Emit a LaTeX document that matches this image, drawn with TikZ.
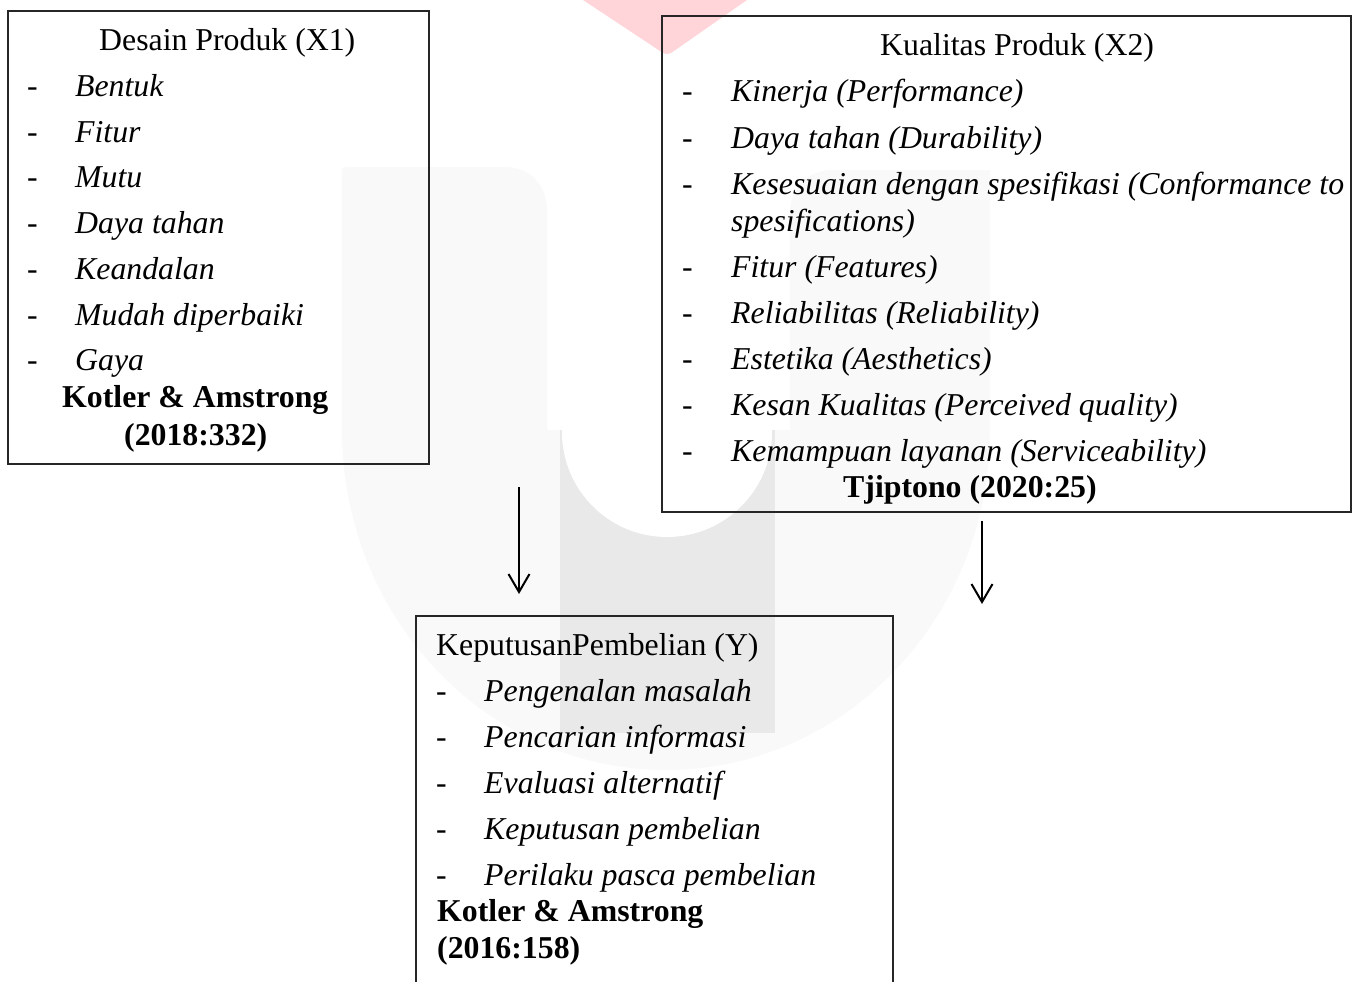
\documentclass[tikz,border=0pt]{standalone}
\usepackage{fontspec}
\setmainfont{Liberation Serif}[Ligatures={NoCommon}]
\usetikzlibrary{arrows.meta}
\definecolor{ulight}{RGB}{249,249,249}
\definecolor{udark}{RGB}{233,233,234}
\definecolor{pinkw}{RGB}{255,213,218}
\begin{document}
\begin{tikzpicture}[x=1pt,y=-1pt,
  box/.style={draw=black!85, line width=1.3pt, inner sep=0pt},
  txt/.style={anchor=base west, inner sep=0pt, font=\fontsize{31.8}{38}\selectfont},
  itm/.style={txt, font=\fontsize{31.8}{38}\selectfont\itshape},
  bld/.style={txt, font=\fontsize{31.8}{38}\selectfont\bfseries},
  arr/.style={line width=2pt, -{Straight Barb[length=18pt,width=21pt]}}]
\useasboundingbox (0,0) rectangle (1355,982);
% watermark
\fill[ulight] (342,430) -- (342,170) .. controls (342,168) and (343,167) .. (346,167)
  -- (505,167) .. controls (530,167) and (547,185) .. (547,210) -- (547,430)
  -- (790,430) -- (790,212) .. controls (790,188) and (808,170) .. (832,170)
  -- (990,170) -- (990,430) arc[start angle=0, end angle=180, x radius=324, y radius=340] -- cycle;
\fill[udark] (560,430) rectangle (775,733);
\fill[white] (667,432) circle[radius=105];
\fill[pinkw] (583,0) -- (747,0) -- (674,51) .. controls (669,55) and (665,55) .. (660,51) -- cycle;
% boxes
\node[box, minimum width=421pt, minimum height=453pt] (b1) at (218.5,237.5) {};
\node[box, minimum width=689pt, minimum height=496pt] (b2) at (1006.5,264) {};
\node[box, minimum width=477pt, minimum height=384pt] (b3) at (654.5,808) {};
% box 1
\node[txt] (t1) at (99,51) {Desain Produk (X1)};
\node[txt] (d11) at (27,96) {-};  \node[itm] (i11) at (75,96) {Bentuk};
\node[txt] (d12) at (27,142) {-}; \node[itm] (i12) at (75,142) {Fitur};
\node[txt] (d13) at (27,187) {-}; \node[itm] (i13) at (75,187) {Mutu};
\node[txt] (d14) at (27,233) {-}; \node[itm] (i14) at (75,233) {Daya tahan};
\node[txt] (d15) at (27,279) {-}; \node[itm] (i15) at (75,279) {Keandalan};
\node[txt] (d16) at (27,325) {-}; \node[itm] (i16) at (75,325) {Mudah diperbaiki};
\node[txt] (d17) at (27,370) {-}; \node[itm] (i17) at (75,370) {Gaya};
\node[bld] (k1) at (62,407) {Kotler \& Amstrong};
\node[bld] (k2) at (124,445) {(2018:332)};
% box 2
\node[txt] (t2) at (880,56) {Kualitas Produk (X2)};
\node[txt] (d21) at (682,102) {-}; \node[itm] (i21) at (731,102) {Kinerja (Performance)};
\node[txt] (d22) at (682,148) {-}; \node[itm] (i22) at (731,148) {Daya tahan (Durability)};
\node[txt] (d23) at (682,194) {-}; \node[itm] (i23) at (731,194) {Kesesuaian dengan spesifikasi (Conformance to};
\node[itm] (i23b) at (731,231) {spesifications)};
\node[txt] (d24) at (682,277) {-}; \node[itm] (i24) at (731,277) {Fitur (Features)};
\node[txt] (d25) at (682,323) {-}; \node[itm] (i25) at (731,323) {Reliabilitas (Reliability)};
\node[txt] (d26) at (682,369) {-}; \node[itm] (i26) at (731,369) {Estetika (Aesthetics)};
\node[txt] (d27) at (682,415) {-}; \node[itm] (i27) at (731,415) {Kesan Kualitas (Perceived quality)};
\node[txt] (d28) at (682,461) {-}; \node[itm] (i28) at (731,461) {Kemampuan layanan (Serviceability)};
\node[bld] (k3) at (843,497) {Tjiptono (2020:25)};
% box 3
\node[txt] (t3) at (436,655) {KeputusanPembelian (Y)};
\node[txt] (d31) at (436,701) {-}; \node[itm] (i31) at (484,701) {Pengenalan masalah};
\node[txt] (d32) at (436,747) {-}; \node[itm] (i32) at (484,747) {Pencarian informasi};
\node[txt] (d33) at (436,793) {-}; \node[itm] (i33) at (484,793) {Evaluasi alternatif};
\node[txt] (d34) at (436,839) {-}; \node[itm] (i34) at (484,839) {Keputusan pembelian};
\node[txt] (d35) at (436,885) {-}; \node[itm] (i35) at (484,885) {Perilaku pasca pembelian};
\node[bld] (k4) at (437,921) {Kotler \& Amstrong};
\node[bld] (k5) at (437,958) {(2016:158)};
% arrows
\coordinate (a1s) at (519,487); \coordinate (a1e) at (519,594);
\coordinate (a2s) at (982,521); \coordinate (a2e) at (982,604);
\draw[arr] (a1s) -- (a1e);
\draw[arr] (a2s) -- (a2e);
\end{tikzpicture}
\end{document}
